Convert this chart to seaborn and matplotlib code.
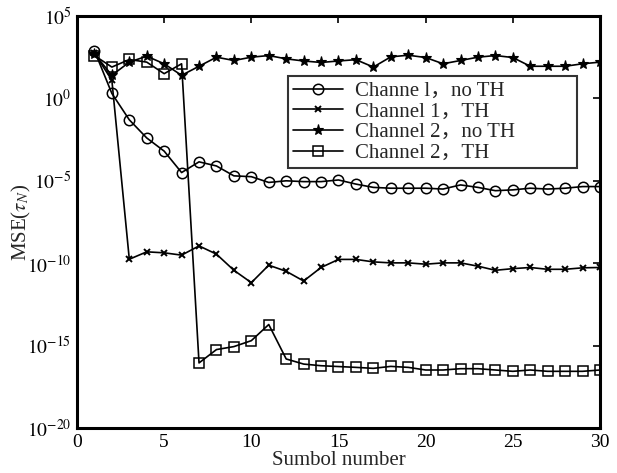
import numpy as np
import pandas as pd
import matplotlib
matplotlib.use("Agg")
import matplotlib.pyplot as plt
import seaborn as sns

# symbol index and log10(MSE)
symbols = list(range(1, 31))
ch1_no_th = [2.9, 0.3, -1.3, -2.4, -3.2, -4.5, -3.85, -4.1, -4.7, -4.75,
             -5.1, -5.0, -5.05, -5.05, -4.95, -5.2, -5.4, -5.45, -5.45, -5.45,
             -5.5, -5.25, -5.4, -5.6, -5.55, -5.45, -5.5, -5.45, -5.35, -5.35]
ch1_th = [2.75, 1.1, -9.76, -9.31, -9.37, -9.51, -8.95, -9.45, -10.43, -11.18,
          -10.12, -10.49, -11.08, -10.26, -9.77, -9.77, -9.92, -9.98, -9.98, -10.06,
          -9.98, -9.98, -10.18, -10.43, -10.33, -10.26, -10.37, -10.37, -10.28, -10.26]
ch2_no_th = [2.7, 1.4, 2.2, 2.56, 2.1, 1.4, 1.95, 2.5, 2.3, 2.5,
             2.6, 2.4, 2.27, 2.18, 2.27, 2.35, 1.9, 2.52, 2.62, 2.48,
             2.1, 2.3, 2.5, 2.6, 2.48, 1.95, 1.95, 1.95, 2.1, 2.2]
ch2_th = [2.6, 1.9, 2.36, 2.2, 1.5, 2.1, -16.05, -15.24, -15.06, -14.7,
          -13.72, -15.81, -16.12, -16.22, -16.27, -16.32, -16.38, -16.26, -16.32, -16.48,
          -16.48, -16.4, -16.4, -16.48, -16.56, -16.48, -16.56, -16.56, -16.56, -16.48]

labels = ["Channe l，no TH", "Channel 1，TH", "Channel 2，no TH", "Channel 2，TH"]
x_ticks = [0, 5, 10, 15, 20, 25, 30]
y_exps = [5, 0, -5, -10, -15, -20]

sns.set_style("white")
plt.rcParams['font.family'] = ['Liberation Serif', 'Noto Sans CJK SC', 'DejaVu Sans']
plt.rcParams['mathtext.fontset'] = 'stix'

fig = plt.figure(figsize=(6.17, 4.73), dpi=100)
ax = fig.add_axes([0.1248, 0.0951, 0.8476, 0.8711])

series = [ch1_no_th, ch1_th, ch2_no_th, ch2_th]
styles = [
    dict(marker='o', markersize=7.5, markerfacecolor='none', markeredgewidth=1.1),
    dict(marker='x', markersize=4.5, markeredgewidth=1.4),
    dict(marker='*', markersize=8, markeredgewidth=0.8),
    dict(marker='s', markersize=7.5, markerfacecolor='none', markeredgewidth=1.1),
]
for vals, lab, st in zip(series, labels, styles):
    df = pd.DataFrame({"x": symbols, "y": 10.0 ** np.array(vals)})
    sns.lineplot(data=df, x="x", y="y", ax=ax, color='black', linewidth=1.2,
                 markeredgecolor='black', label=lab, **st)

ax.set_yscale('log')
ax.set_xlim(0, 30)
ax.set_ylim(1e-20, 1e5)
ax.set_xticks(x_ticks)
ax.set_xticklabels([str(t) for t in x_ticks])
ax.set_yticks([10.0 ** e for e in y_exps])
ax.set_yticklabels([r"$10^{%d}$" % e for e in y_exps])
ax.minorticks_off()
ax.tick_params(direction='in', top=True, right=True, length=5, width=1.2,
               labelsize=14, colors='black', pad=4)

for sp in ax.spines.values():
    sp.set_linewidth(2.2)
    sp.set_color('black')

ax.set_xlabel("Sumbol number", fontsize=15, labelpad=0)
ax.set_ylabel(r"MSE($\tau_N$)", fontsize=15)
ax.yaxis.set_label_coords(-0.085, 0.5)

leg = ax.legend(loc='upper left', bbox_to_anchor=(0.403, 0.626, 0.553, 0.228),
                mode='expand', borderaxespad=0, fontsize=15, frameon=True,
                fancybox=False, handlelength=2.4, labelspacing=0.05,
                borderpad=0.25, handletextpad=0.6)
leg.get_frame().set_edgecolor('black')
leg.get_frame().set_linewidth(1.5)

fig.savefig("out.png", dpi=100)
